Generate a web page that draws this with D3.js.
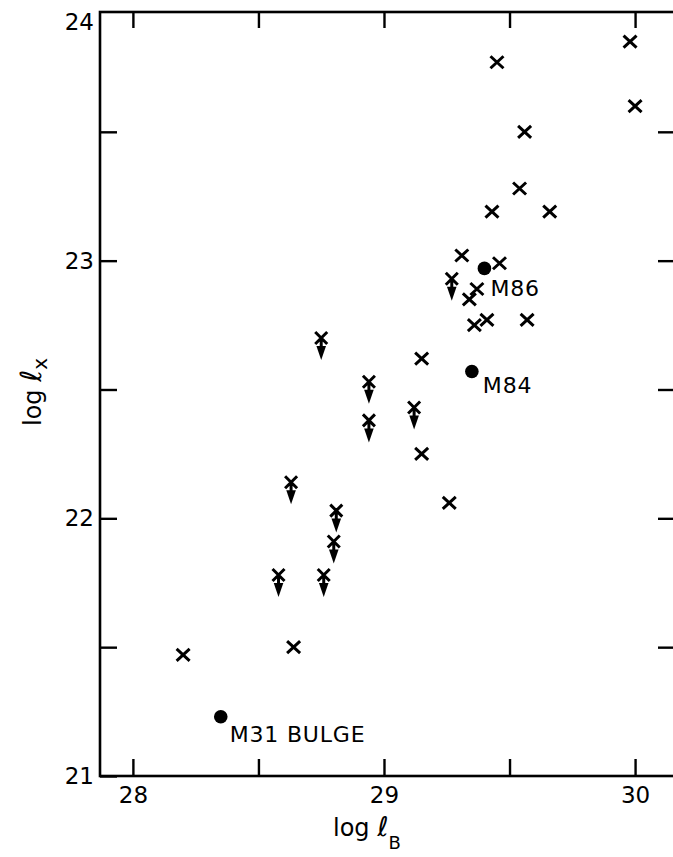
<!DOCTYPE html>
<html>
<head>
<meta charset="utf-8">
<script src="https://cdn.jsdelivr.net/npm/d3@7"></script>
<style>
    body { margin: 0; background: #fff; }
    svg { display: block; font-family: "DejaVu Sans", sans-serif; }
</style>
</head>
<body>
<div id="chart"></div>
<script>
// detections (log lB, log lx)
const crossLB = [29.98, 30.00, 29.45, 29.56, 29.54, 29.43, 29.66, 29.31, 29.46, 29.37,
                 29.34, 29.36, 29.41, 29.57, 29.15, 29.15, 29.26, 28.20, 28.64]
const crossLX = [23.85, 23.60, 23.77, 23.50, 23.28, 23.19, 23.19, 23.02, 22.99, 22.89,
                 22.85, 22.75, 22.77, 22.77, 22.62, 22.25, 22.06, 21.47, 21.50]

// upper limits
const limitLB = [29.27, 28.75, 28.94, 28.94, 29.12, 28.63, 28.81, 28.80, 28.58, 28.76]
const limitLX = [22.93, 22.70, 22.53, 22.38, 22.43, 22.14, 22.03, 21.91, 21.78, 21.78]

// named objects
const namedLB = [29.40, 29.35, 28.35]
const namedLX = [22.97, 22.57, 21.23]
const namedLabels = ["M86", "M84", "M31 BULGE"]

const xTicks = [28, 28.5, 29, 29.5, 30]
const xTickLabels = ["28", "", "29", "", "30"]
const yTicks = [21, 21.5, 22, 22.5, 23, 23.5]
const yTickLabels = ["21", "", "22", "", "23", ""]
const yTopLabel = "24"

const width = 673
const height = 857
const mLeft = 100, mRight = 675, mTop = 12, mBottom = 776

const xScale = d3.scaleLinear()
    .domain([27.869, 30.159])
    .range([mLeft, mRight])

const yScale = d3.scaleLinear()
    .domain([21, 23.965])
    .range([mBottom, mTop])

const $svg = d3.select("#chart").append("svg")
    .attr("width", width)
    .attr("height", height)

//frame
$svg.append("rect")
    .attr("x", mLeft)
    .attr("y", mTop)
    .attr("width", mRight - mLeft)
    .attr("height", mBottom - mTop)
    .attr("fill", "none")
    .attr("stroke", "#000")
    .attr("stroke-width", 2.6)

const styleAxis = g => {
    g.select(".domain").remove()
    g.selectAll(".tick line").attr("stroke", "#000").attr("stroke-width", 2.4)
    g.selectAll(".tick text")
        .attr("fill", "#000")
        .attr("font-size", 23)
        .attr("font-family", "DejaVu Sans, sans-serif")
}

$svg.append("g")
    .attr("transform", `translate(${mLeft},0)`)
    .call(d3.axisLeft(yScale).tickValues(yTicks).tickSize(-17).tickPadding(6)
        .tickFormat((d, i) => yTickLabels[i]))
    .call(styleAxis)

$svg.append("g")
    .attr("transform", `translate(${mRight},0)`)
    .call(d3.axisRight(yScale).tickValues(yTicks.slice(1)).tickSize(-17).tickFormat(""))
    .call(styleAxis)

$svg.append("g")
    .attr("transform", `translate(0,${mTop})`)
    .call(d3.axisTop(xScale).tickValues(xTicks).tickSize(-16).tickFormat(""))
    .call(styleAxis)

$svg.append("g")
    .attr("transform", `translate(0,${mBottom})`)
    .call(d3.axisBottom(xScale).tickValues(xTicks).tickSize(-17).tickPadding(11)
        .tickFormat((d, i) => xTickLabels[i]))
    .call(styleAxis)

// "24" sits just under the top corner
$svg.append("text")
    .attr("x", mLeft - 6)
    .attr("y", mTop + 11)
    .attr("dy", "0.32em")
    .attr("text-anchor", "end")
    .attr("font-size", 23)
    .text(yTopLabel)

// crosses
const crosses = crossLB.map((d, i) => [d, crossLX[i]])
$svg.selectAll("path.cross")
    .data(crosses)
    .enter().append("path")
    .attr("class", "cross")
    .attr("transform", ([b, x]) => `translate(${xScale(b)},${yScale(x)})`)
    .attr("d", "M-6.5,-6L6.5,6M6.5,-6L-6.5,6")
    .attr("stroke", "#000")
    .attr("stroke-width", 3)
    .attr("fill", "none")

// upper limits: cross + arrow
const limits = limitLB.map((d, i) => [d, limitLX[i]])
const $lim = $svg.selectAll("g.limit")
    .data(limits)
    .enter().append("g")
    .attr("class", "limit")
    .attr("transform", ([b, x]) => `translate(${xScale(b)},${yScale(x)})`)

$lim.append("path")
    .attr("d", "M-6,-6L6,6M6,-6L-6,6M0,0L0,12")
    .attr("stroke", "#000")
    .attr("stroke-width", 3)
    .attr("fill", "none")

$lim.append("path")
    .attr("d", "M-4.8,8L4.8,8L0,22Z")
    .attr("fill", "#000")

// named objects
const named = namedLB.map((d, i) => ({b: d, x: namedLX[i], name: namedLabels[i]}))
const labelOffset = {"M86": [6, 28], "M84": [11, 22], "M31 BULGE": [9, 25]}

$svg.selectAll("circle.named")
    .data(named)
    .enter().append("circle")
    .attr("class", "named")
    .attr("cx", d => xScale(d.b))
    .attr("cy", d => yScale(d.x))
    .attr("r", 6.8)
    .attr("fill", "#000")

$svg.selectAll("text.named")
    .data(named)
    .enter().append("text")
    .attr("class", "named")
    .attr("x", d => xScale(d.b) + labelOffset[d.name][0])
    .attr("y", d => yScale(d.x) + labelOffset[d.name][1])
    .attr("font-size", 22)
    .attr("letter-spacing", 0.8)
    .text(d => d.name)

// axis titles
const $xt = $svg.append("text")
    .attr("x", 333)
    .attr("y", 836)
    .attr("font-size", 24)
$xt.append("tspan").text("log ")
$xt.append("tspan").attr("font-style", "italic").attr("font-size", 27).text("ℓ")
$xt.append("tspan").attr("font-size", 18).attr("dy", 13).text("B")

const $yt = $svg.append("text")
    .attr("transform", "translate(41,426) rotate(-90)")
    .attr("font-size", 24)
$yt.append("tspan").text("log ")
$yt.append("tspan").attr("font-style", "italic").attr("font-size", 29).text("ℓ")
$yt.append("tspan").attr("font-size", 20).attr("dy", 6).text("x")
</script>
</body>
</html>
